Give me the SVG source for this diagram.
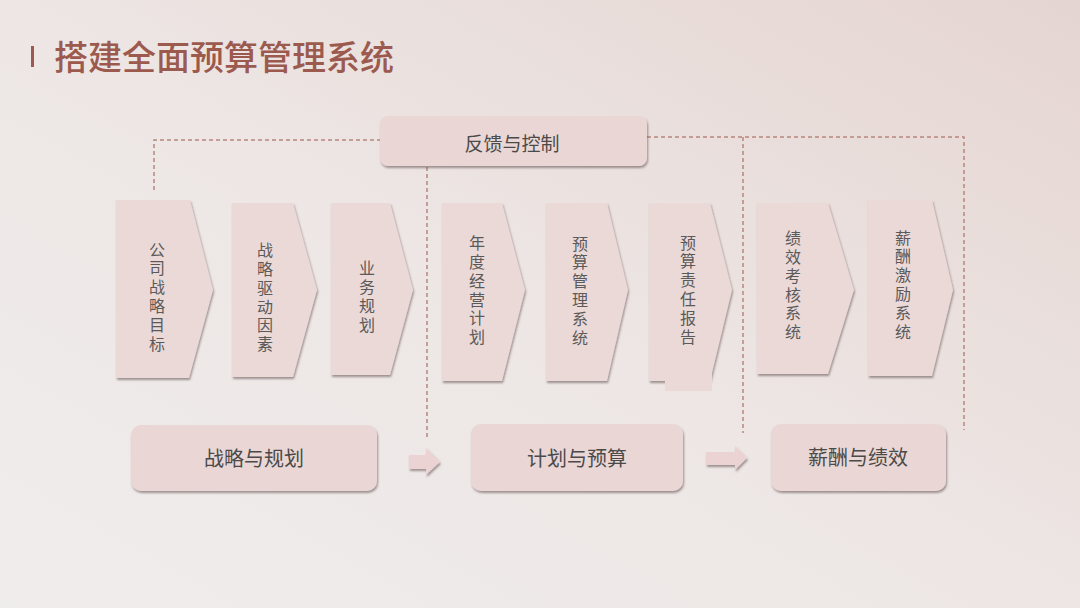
<svg xmlns="http://www.w3.org/2000/svg" width="1080" height="608" viewBox="0 0 1080 608">
<defs>
<linearGradient id="bg" x1="0" y1="1" x2="1" y2="0">
<stop offset="0" stop-color="#efedec"/>
<stop offset="0.5" stop-color="#ede6e4"/>
<stop offset="1" stop-color="#e5d5d2"/>
</linearGradient>
<filter id="sh" x="-10%" y="-10%" width="130%" height="130%">
<feDropShadow dx="1" dy="2" stdDeviation="1.2" flood-color="#5a4a48" flood-opacity="0.55"/>
</filter>
<style>
.box{fill:#ead7d5;filter:url(#sh)}
.chev{fill:#ebd9d8;filter:url(#sh)}
.vt{font-family:"Noto Sans CJK SC","Noto Sans",sans-serif;font-size:16px;fill:#5a5a5a;text-anchor:middle;writing-mode:vertical-rl;letter-spacing:2.8px}
.bt{font-family:"Noto Sans CJK SC","Noto Sans",sans-serif;font-size:20px;fill:#4a4a4a;text-anchor:middle}
.dash{fill:none;stroke:#b7877d;stroke-width:1.5;stroke-dasharray:4 3}
.arr{fill:#ebd3d3;filter:url(#sh)}
</style>
</defs>
<rect width="1080" height="608" fill="url(#bg)"/>
<g id="title">
<rect x="31" y="46" width="3" height="21" fill="#9c5a4e"/>
<text x="54" y="70" font-family="'Noto Sans CJK SC','Noto Sans',sans-serif" font-size="34" font-weight="500" fill="#9c5a4e">搭建全面预算管理系统</text>
</g>
<g id="connectors">
<path class="dash" d="M154,190 V140 H380"/>
<path class="dash" d="M647,137 H964 V430"/>
<path class="dash" d="M743,137 V433"/>
<path class="dash" d="M427,167 V440"/>
<path class="arr" d="M409,455 H426 V448 L440,462 L426,475 V469 H409 Z"/>
<path class="arr" d="M706,452 H735 V446 L747,458 L735,470 V465 H706 Z"/>
</g>
<g id="feedback">
<rect class="box" x="380" y="116" width="267" height="50" rx="8"/>
<text x="512" y="151" font-family="'Noto Sans CJK SC','Noto Sans',sans-serif" font-size="19" fill="#4a4a4a" text-anchor="middle">反馈与控制</text>
</g>
<g id="c1">
<polygon class="chev" points="116,200 190,200 213,290 189,378 116,378"/>
<text class="vt" x="157" y="298">公司战略目标</text>
</g>
<g id="c2">
<polygon class="chev" points="232,203 293,203 317,290 293,377 232,377"/>
<text class="vt" x="265" y="298.5">战略驱动因素</text>
</g>
<g id="c3">
<polygon class="chev" points="331,203 390,203 413,290 390,375 331,375"/>
<text class="vt" x="367" y="298">业务规划</text>
</g>
<g id="c4">
<polygon class="chev" points="442,203 502,203 525,290 502,381 442,381"/>
<text class="vt" x="477" y="291.5">年度经营计划</text>
</g>
<g id="c5">
<polygon class="chev" points="546,203 607,203 628,290 607,381 546,381"/>
<text class="vt" x="580" y="292">预算管理系统</text>
</g>
<g id="c6">
<polygon class="chev" points="649,203 710,203 732,290 710,381 649,381"/>
<rect x="665" y="372" width="47" height="19" fill="#ebd9d8"/>
<text class="vt" x="688" y="291">预算责任报告</text>
</g>
<g id="c7">
<polygon class="chev" points="757,203 828,203 854,290 828,374 757,374"/>
<text class="vt" x="793" y="286.5">绩效考核系统</text>
</g>
<g id="c8">
<polygon class="chev" points="868,200 932,200 953,290 932,376 868,376"/>
<text class="vt" x="903" y="286">薪酬激励系统</text>
</g>
<g id="b1">
<rect class="box" x="131" y="425" width="246" height="66" rx="10"/>
<text class="bt" x="254" y="466">战略与规划</text>
</g>
<g id="b2">
<rect class="box" x="471" y="424" width="212" height="67" rx="10"/>
<text class="bt" x="577" y="466">计划与预算</text>
</g>
<g id="b3">
<rect class="box" x="771" y="424" width="175" height="67" rx="10"/>
<text class="bt" x="858" y="465">薪酬与绩效</text>
</g>
</svg>
